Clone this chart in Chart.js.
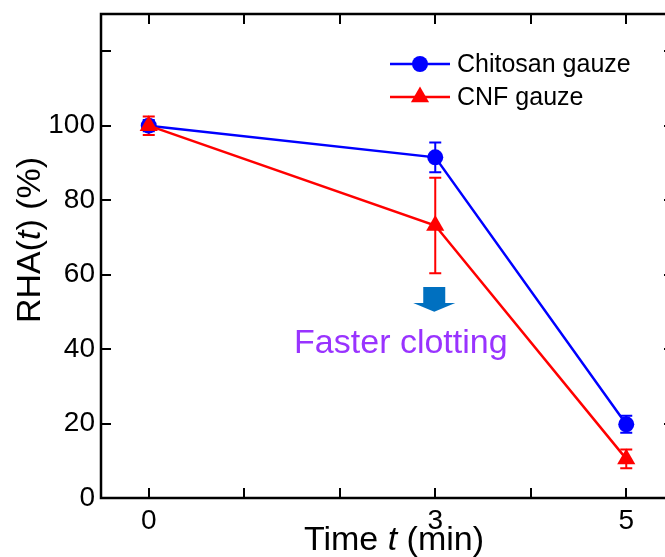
<!DOCTYPE html>
<html>
<head>
<meta charset="utf-8">
<script src="https://cdn.jsdelivr.net/npm/chart.js"></script>
<style>
  html, body { margin: 0; padding: 0; background: #fff; overflow: hidden; }
  #wrap { width: 685px; height: 557px; }
</style>
</head>
<body>
<div id="wrap"><canvas id="chart_rha" width="685" height="557"></canvas></div>
<script>
// values
var timeMin = [0, 3, 5];
var chitosanRHA = [100, 91.5, 19.8];
var chitosanErr = [1.5, 4.0, 2.3];
var cnfRHA = [100, 73.2, 10.5];
var cnfErr = [2.5, 12.8, 2.5];
var xTicks = [0, 1, 2, 3, 4, 5];
var xLabeled = [0, 3, 5];
var yTicks = [0, 20, 40, 60, 80, 100, 120];
var yLabeled = [0, 20, 40, 60, 80, 100];

var FONT = '"Liberation Sans", Arial, sans-serif';

function points(xs, ys) {
    return xs.map(function (x, i) { return { x: x, y: ys[i] }; });
}

// frame with inward ticks
var framePlugin = {
    id: 'frame',
    afterDatasetsDraw: function (chart) {
        var ctx = chart.ctx, a = chart.chartArea;
        var xs = chart.scales.x, ys = chart.scales.y;
        ctx.save();
        ctx.strokeStyle = '#000';
        ctx.lineWidth = 2.5;
        ctx.strokeRect(a.left, a.top, a.right - a.left, a.bottom - a.top);
        ctx.lineWidth = 2;
        ctx.beginPath();
        xTicks.forEach(function (v) {
            var px = Math.round(xs.getPixelForValue(v));
            ctx.moveTo(px, a.bottom); ctx.lineTo(px, a.bottom - 10);
            ctx.moveTo(px, a.top); ctx.lineTo(px, a.top + 10);
        });
        yTicks.forEach(function (v) {
            var py = Math.round(ys.getPixelForValue(v));
            ctx.moveTo(a.left, py); ctx.lineTo(a.left + 10, py);
            ctx.moveTo(a.right, py); ctx.lineTo(a.right - 10, py);
        });
        ctx.stroke();
        ctx.restore();
    }
};

// vertical error bars from the err arrays
var errorBarPlugin = {
    id: 'errorBars',
    beforeDatasetsDraw: function (chart) {
        var ctx = chart.ctx;
        var xs = chart.scales.x, ys = chart.scales.y;
        chart.data.datasets.forEach(function (ds) {
            ctx.save();
            ctx.strokeStyle = ds.borderColor;
            ctx.lineWidth = 2;
            ds.data.forEach(function (p, i) {
                var e = ds.errors[i];
                var px = xs.getPixelForValue(p.x);
                var top = ys.getPixelForValue(p.y + e);
                var bot = ys.getPixelForValue(p.y - e);
                ctx.beginPath();
                ctx.moveTo(px, top); ctx.lineTo(px, bot);
                ctx.moveTo(px - 6, top); ctx.lineTo(px + 6, top);
                ctx.moveTo(px - 6, bot); ctx.lineTo(px + 6, bot);
                ctx.stroke();
            });
            ctx.restore();
        });
    }
};

function drawMarker(ctx, style, r, x, y, color) {
    ctx.fillStyle = color;
    ctx.beginPath();
    if (style === 'triangle') {
        ctx.moveTo(x, y - r);
        ctx.lineTo(x + r * Math.sin(2 * Math.PI / 3), y + r * 0.5);
        ctx.lineTo(x - r * Math.sin(2 * Math.PI / 3), y + r * 0.5);
        ctx.closePath();
    } else {
        ctx.arc(x, y, r, 0, Math.PI * 2);
    }
    ctx.fill();
}

// legend, axis titles, annotation
var textPlugin = {
    id: 'texts',
    afterDraw: function (chart) {
        var ctx = chart.ctx, a = chart.chartArea;
        var xs = chart.scales.x, ys = chart.scales.y;
        ctx.save();

        // legend
        var rows = [chart.data.datasets[1], chart.data.datasets[0]];
        rows.forEach(function (ds, i) {
            var y = 64 + i * 33;
            ctx.strokeStyle = ds.borderColor;
            ctx.lineWidth = 2.5;
            ctx.beginPath();
            ctx.moveTo(390, y); ctx.lineTo(450, y);
            ctx.stroke();
            drawMarker(ctx, ds.pointStyle, ds.pointRadius, 420, y, ds.borderColor);
            ctx.fillStyle = '#000';
            ctx.font = '25px ' + FONT;
            ctx.textAlign = 'left';
            ctx.textBaseline = 'middle';
            ctx.fillText(ds.label, 457, y + 1);
        });

        // x title: Time t (min)
        var parts = [['Time ', 'normal'], ['t', 'italic'], [' (min)', 'normal']];
        ctx.fillStyle = '#000';
        ctx.textBaseline = 'alphabetic';
        ctx.textAlign = 'left';
        var total = 0;
        parts.forEach(function (p) { ctx.font = p[1] + ' 34px ' + FONT; total += ctx.measureText(p[0]).width; });
        var x0 = 394 - total / 2;
        parts.forEach(function (p) {
            ctx.font = p[1] + ' 34px ' + FONT;
            ctx.fillText(p[0], x0, 550);
            x0 += ctx.measureText(p[0]).width;
        });

        // y title: RHA(t) (%)
        var yparts = [['RHA(', 'normal'], ['t', 'italic'], [') (%)', 'normal']];
        ctx.save();
        ctx.translate(40, 240);
        ctx.rotate(-Math.PI / 2);
        total = 0;
        yparts.forEach(function (p) { ctx.font = p[1] + ' 34px ' + FONT; total += ctx.measureText(p[0]).width; });
        x0 = -total / 2;
        yparts.forEach(function (p) {
            ctx.font = p[1] + ' 34px ' + FONT;
            ctx.fillText(p[0], x0, 0);
            x0 += ctx.measureText(p[0]).width;
        });
        ctx.restore();

        // arrow + "Faster clotting"
        var ax = xs.getPixelForValue(3) - 1;
        var aTop = ys.getPixelForValue(56.7);
        var aMid = ys.getPixelForValue(52.4);
        var aTip = ys.getPixelForValue(50.0);
        ctx.fillStyle = '#0070c0';
        ctx.beginPath();
        ctx.moveTo(ax - 11, aTop); ctx.lineTo(ax + 11, aTop);
        ctx.lineTo(ax + 11, aMid); ctx.lineTo(ax + 21, aMid);
        ctx.lineTo(ax, aTip); ctx.lineTo(ax - 21, aMid);
        ctx.lineTo(ax - 11, aMid); ctx.closePath();
        ctx.fill();

        ctx.fillStyle = '#9933ff';
        ctx.font = '34px ' + FONT;
        ctx.textAlign = 'center';
        ctx.fillText('Faster clotting', xs.getPixelForValue(2.64), ys.getPixelForValue(38.9));

        ctx.restore();
    }
};

var ctx = document.getElementById('chart_rha').getContext('2d');
var chart = new Chart(ctx, {
    type: 'line',
    data: {
        datasets: [{
            label: 'CNF gauze',
            data: points(timeMin, cnfRHA),
            errors: cnfErr,
            borderColor: '#ff0000',
            backgroundColor: '#ff0000',
            borderWidth: 2.5,
            pointStyle: 'triangle',
            pointRadius: 10.5,
            pointBorderWidth: 0,
            order: 1
        }, {
            label: 'Chitosan gauze',
            data: points(timeMin, chitosanRHA),
            errors: chitosanErr,
            borderColor: '#0000ff',
            backgroundColor: '#0000ff',
            borderWidth: 2.5,
            pointStyle: 'circle',
            pointRadius: 8,
            pointBorderWidth: 0,
            order: 2
        }]
    },
    options: {
        responsive: false,
        animation: false,
        devicePixelRatio: 1,
        layout: { padding: { top: 14, right: 11, left: 0, bottom: 0 } },
        plugins: {
            legend: { display: false },
            tooltip: { enabled: false }
        },
        scales: {
            x: {
                type: 'linear',
                min: -0.5,
                max: 5.5,
                grid: { display: false, drawTicks: false },
                border: { display: false },
                afterBuildTicks: function (s) { s.ticks = xTicks.map(function (v) { return { value: v }; }); },
                afterFit: function (s) { s.height = 59; s.paddingLeft = 0; s.paddingRight = 0; },
                ticks: {
                    padding: 6,
                    color: '#000',
                    font: { family: FONT, size: 28 },
                    maxRotation: 0,
                    autoSkip: false,
                    callback: function (v) { return xLabeled.indexOf(v) >= 0 ? String(v) : ''; }
                }
            },
            y: {
                type: 'linear',
                min: 0,
                max: 130,
                grid: { display: false, drawTicks: false },
                border: { display: false },
                afterBuildTicks: function (s) { s.ticks = yTicks.map(function (v) { return { value: v }; }); },
                afterFit: function (s) { s.width = 101; s.paddingTop = 0; s.paddingBottom = 0; },
                ticks: {
                    padding: 6,
                    color: '#000',
                    font: { family: FONT, size: 28 },
                    callback: function (v) { return yLabeled.indexOf(v) >= 0 ? String(v) : ''; }
                }
            }
        }
    },
    plugins: [errorBarPlugin, framePlugin, textPlugin]
});
</script>
</body>
</html>
